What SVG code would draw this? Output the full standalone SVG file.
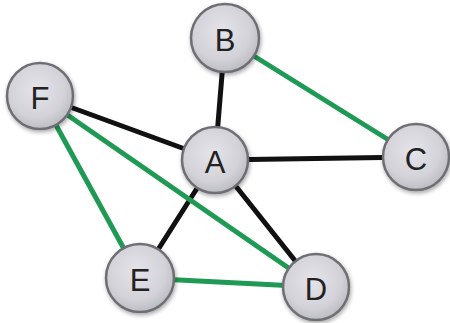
<svg xmlns="http://www.w3.org/2000/svg" width="450" height="323" viewBox="0 0 450 323">
  <defs>
    <radialGradient id="nodeFill" cx="45%" cy="40%" r="60%">
      <stop offset="0" stop-color="#e4e4ea"/>
      <stop offset="0.7" stop-color="#d2d2d8"/>
      <stop offset="1" stop-color="#bdbdc4"/>
    </radialGradient>
    <filter id="shadow" x="-30%" y="-30%" width="160%" height="160%">
      <feGaussianBlur in="SourceAlpha" stdDeviation="2"/>
      <feOffset dx="1" dy="2" result="b"/>
      <feComponentTransfer><feFuncA type="linear" slope="0.35"/></feComponentTransfer>
      <feMerge><feMergeNode/><feMergeNode in="SourceGraphic"/></feMerge>
    </filter>
  </defs>
  <style>
    .node circle { fill: url(#nodeFill); stroke: #6e6e74; stroke-width: 2.5; filter: url(#shadow); }
    .node text { font-family: "Liberation Sans", Arial, sans-serif; font-size: 31px; fill: #222; text-anchor: middle; dominant-baseline: central; }
    .black { stroke: #111; stroke-width: 5; stroke-linecap: round; }
    .green { stroke: #1f9a55; stroke-width: 5; stroke-linecap: round; }
  </style>
  <rect width="450" height="323" fill="#fff"/>
  <g id="connectors">
    <line class="black" x1="215" y1="160" x2="225" y2="38"/>
    <line class="black" x1="215" y1="160" x2="40" y2="96"/>
    <line class="black" x1="215" y1="160" x2="416" y2="157"/>
    <line class="black" x1="215" y1="160" x2="140" y2="278"/>
    <line class="black" x1="215" y1="160" x2="316" y2="287"/>
    <line class="green" x1="225" y1="38" x2="416" y2="157"/>
    <line class="green" x1="40" y1="96" x2="140" y2="278"/>
    <line class="green" x1="40" y1="96" x2="316" y2="287"/>
    <line class="green" x1="140" y1="278" x2="316" y2="287"/>
  </g>
  <g id="node-B" class="node"><circle cx="225" cy="38" r="34"/><text x="225" y="40">B</text></g>
  <g id="node-F" class="node"><circle cx="40" cy="96" r="33"/><text x="40" y="98">F</text></g>
  <g id="node-C" class="node"><circle cx="416" cy="157" r="33"/><text x="416" y="159">C</text></g>
  <g id="node-A" class="node"><circle cx="215" cy="160" r="33"/><text x="215" y="162">A</text></g>
  <g id="node-E" class="node"><circle cx="140" cy="278" r="34"/><text x="140" y="280">E</text></g>
  <g id="node-D" class="node"><circle cx="316" cy="287" r="33"/><text x="316" y="289">D</text></g>
</svg>
